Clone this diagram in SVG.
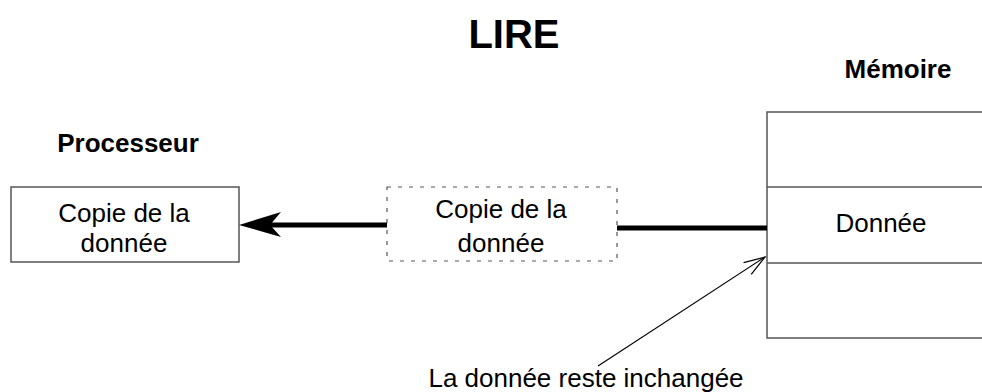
<svg xmlns="http://www.w3.org/2000/svg" width="982" height="392" viewBox="0 0 982 392">
<style>
text{font-family:"Liberation Sans",Arial,sans-serif;fill:#000}
.t{font-size:26px;text-anchor:middle}
.b{font-weight:bold}
.box{fill:#fff;stroke:#555;stroke-width:1.5}
.dash{fill:#fff;stroke:#555;stroke-width:1.2;stroke-dasharray:4 7}
.thick{stroke:#000;stroke-width:5;fill:none}
.thin{stroke:#000;stroke-width:1.2;fill:none}
</style>
<defs>
<marker id="open" markerWidth="24" markerHeight="16" refX="22" refY="8" orient="auto" markerUnits="userSpaceOnUse">
<path d="M1,1 L22,8 L1,15" fill="none" stroke="#000" stroke-width="1.2"/>
</marker>
</defs>
<text id="title" class="b" x="514" y="48" font-size="40" text-anchor="middle">LIRE</text>
<g id="processeur">
<text class="t b" x="128" y="152">Processeur</text>
<rect class="box" x="11" y="187" width="228" height="75"/>
<text class="t" x="124" y="222">Copie de la</text>
<text class="t" x="124" y="252">donnée</text>
</g>
<g id="copie">
<rect class="dash" x="387" y="187" width="230" height="74"/>
<text class="t" x="501" y="218">Copie de la</text>
<text class="t" x="501" y="252">donnée</text>
</g>
<g id="memoire">
<text class="t b" x="898" y="78">Mémoire</text>
<path class="box" d="M984,112 L767,112 L767,338 L984,338"/>
<line x1="767" y1="187" x2="984" y2="187" stroke="#555" stroke-width="1.5"/>
<line x1="767" y1="263" x2="984" y2="263" stroke="#555" stroke-width="1.5"/>
<text class="t" x="881" y="232">Donnée</text>
</g>
<g id="connectors">
<line class="thick" x1="387" y1="225" x2="270" y2="225"/>
<path d="M239,225 L281,212 L270,225 L281,237 Z" fill="#000"/>
<line class="thick" x1="617" y1="228" x2="767" y2="228"/>
<line class="thin" x1="598" y1="366" x2="765" y2="257" marker-end="url(#open)"/>
</g>
<text id="note" class="t" x="586" y="387">La donnée reste inchangée</text>
</svg>
